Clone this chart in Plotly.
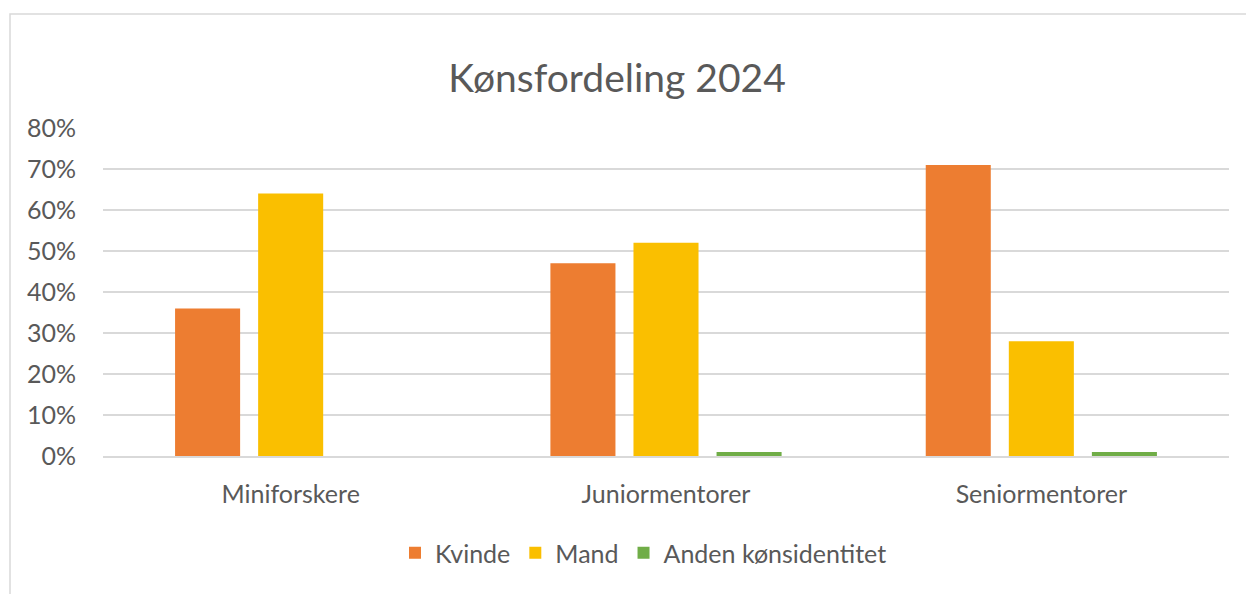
import plotly.graph_objects as go

categories = ["Miniforskere", "Juniormentorer", "Seniormentorer"]
kvinde = [36, 47, 71]
mand = [64, 52, 28]
anden = [0, 1, 1]
series_names = ["Kvinde", "Mand", "Anden kønsidentitet"]
colors = ["#ED7D31", "#FABF00", "#70AD47"]
y_ticks = [0, 10, 20, 30, 40, 50, 60, 70, 80]
y_ticklabels = [f"{v}%" for v in y_ticks]

FONT = "Lato, 'Open Sans', sans-serif"
TXT = "#595959"

# page body has an 8px margin, so layout pixel targets are shifted by -8
L, R, T, B = 95, 33, 120, 146
PW = 1254 - L - R
PH = 594 - T - B
Y0 = 594 - B  # pixel of 0% line within figure

fig = go.Figure()
for name, vals, col in zip(series_names, [kvinde, mand, anden], colors):
    fig.add_trace(go.Bar(x=categories, y=vals, name=name, marker=dict(color=col, line=dict(width=0))))

fig.update_layout(
    width=1254, height=594,
    paper_bgcolor="white", plot_bgcolor="white",
    margin=dict(l=L, r=R, t=T, b=B),
    barmode="group", bargap=0.336, bargroupgap=0.217,
    font=dict(family=FONT, color=TXT, size=25),
    title=dict(text="Kønsfordeling 2024", x=(609 - L) / PW * 0 + (609 / 1254), xanchor="center",
               y=1 - 70 / 594, yanchor="middle",
               font=dict(family=FONT, size=39, color=TXT)),
    legend=dict(orientation="h", x=0.48, xanchor="center", y=(Y0 - 545) / PH, yanchor="middle",
                font=dict(family=FONT, size=25, color=TXT), itemwidth=30,
                traceorder="normal", itemclick=False),
    showlegend=True,
    yaxis=dict(range=[0, 80], tickvals=y_ticks, ticktext=y_ticklabels, showgrid=True,
               gridcolor="#D9D9D9", gridwidth=2, zeroline=False, showline=False,
               ticks="", ticklabelstandoff=26, tickfont=dict(size=25, color=TXT)),
    xaxis=dict(showgrid=False, showline=True, linecolor="#D9D9D9", linewidth=2,
               ticks="", ticklabelstandoff=15, tickfont=dict(size=25, color=TXT)),
    shapes=[dict(type="rect", xref="paper", yref="paper",
                 x0=(2 - L) / PW, x1=(1300 - L) / PW,
                 y0=(Y0 - 650) / PH, y1=(Y0 - 6) / PH,
                 line=dict(color="#D9D9D9", width=1.5), fillcolor="rgba(0,0,0,0)", layer="below")],
)

fig.write_html("out.html")
